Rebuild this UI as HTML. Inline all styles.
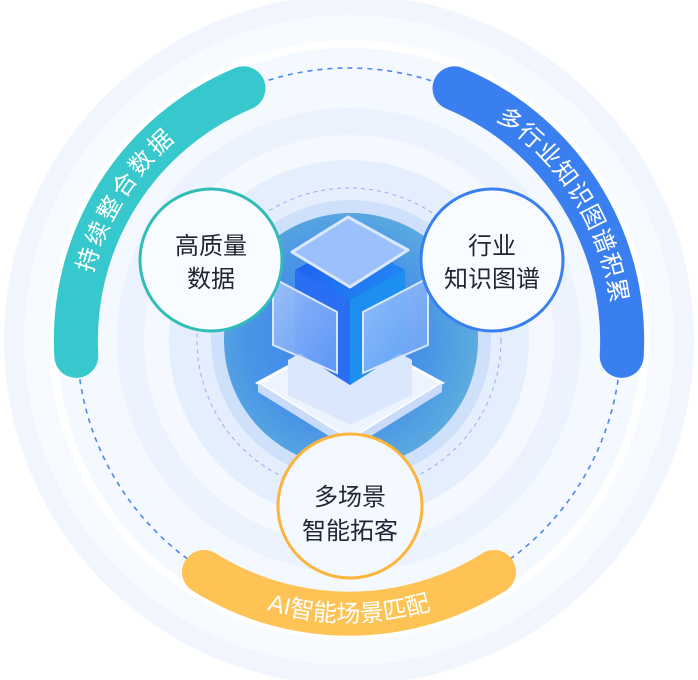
<!DOCTYPE html>
<html><head><meta charset="utf-8"><style>
html,body{margin:0;padding:0;background:#fff;}
svg{display:block;}
text{font-family:"Liberation Sans","Noto Sans CJK SC",sans-serif;}
</style></head><body>
<svg width="698" height="680" viewBox="0 0 698 680" xmlns="http://www.w3.org/2000/svg">
<defs>
<radialGradient id="disc" cx="0.45" cy="0.5" r="0.6">
<stop offset="0" stop-color="#3b7ff0"/>
<stop offset="0.6" stop-color="#4a95e6"/>
<stop offset="1" stop-color="#62b2dc"/>
</radialGradient>
<linearGradient id="face" x1="0" y1="0" x2="1" y2="1">
<stop offset="0" stop-color="#1f5cf0"/>
<stop offset="1" stop-color="#23a0f5"/>
</linearGradient>
<linearGradient id="panel" x1="0" y1="0" x2="1" y2="1">
<stop offset="0" stop-color="#a9c7fb" stop-opacity="0.85"/>
<stop offset="1" stop-color="#6fa4f7" stop-opacity="0.75"/>
</linearGradient>
<path id="pL" d="M 84.6 355.2 A 265 265 0 0 1 247.1 95.4"/>
<path id="pR" d="M 450.9 95.4 A 265 265 0 0 1 613.4 355.2"/>
<path id="pB" d="M 199.6 579.1 A 282 282 0 0 0 498.4 579.1"/>
</defs>
<circle cx="349" cy="340" r="345" fill="#f1f6fe"/>
<circle cx="349" cy="340" r="325" fill="#f7faff"/>
<circle cx="349" cy="340" r="300" fill="#ffffff"/>
<circle cx="349" cy="340" r="292" fill="#f4f8ff"/>
<circle cx="349" cy="340" r="272" fill="none" stroke="#4d86ee" stroke-width="1.6" stroke-dasharray="5 5"/>
<circle cx="349" cy="340" r="232" fill="#edf3fe"/>
<circle cx="349" cy="340" r="205" fill="#f5f8ff"/>
<circle cx="349" cy="340" r="180" fill="#e4eefd"/>
<circle cx="349" cy="340" r="152" fill="none" stroke="#8fb2f2" stroke-width="1" stroke-dasharray="4 4"/>
<circle cx="351" cy="340" r="140" fill="#cfe0fb"/>
<circle cx="351" cy="340" r="127" fill="url(#disc)"/>
<!-- arcs -->
<path d="M 76.3 355.9 A 273 273 0 0 1 243.5 88.3" fill="none" stroke="#36c8cc" stroke-width="44" stroke-linecap="round"/>
<path d="M 454.5 88.3 A 273 273 0 0 1 621.7 355.9" fill="none" stroke="#3a7ff0" stroke-width="44" stroke-linecap="round"/>
<path d="M 204 572 A 273 273 0 0 0 494 572" fill="none" stroke="#fec354" stroke-width="44" stroke-linecap="round"/>
<text font-size="24" fill="#fff"><textPath href="#pL" startOffset="50%" text-anchor="middle" letter-spacing="3">持续整合数据</textPath></text>
<text font-size="24" fill="#fff"><textPath href="#pR" startOffset="50%" text-anchor="middle" letter-spacing="1">多行业知识图谱积累</textPath></text>
<text font-size="24" fill="#fff"><textPath href="#pB" startOffset="50%" text-anchor="middle">AI智能场景匹配</textPath></text>
<!-- cube -->
<polygon points="258,383 350,333 442,383 350,440" fill="#eef4ff" stroke="#ffffff" stroke-width="3"/>
<polygon points="258,383 350,440 442,383 442,392 350,449 258,392" fill="#c9dbfb"/>
<polygon points="288,360 350,325 412,360 412,395 350,425 288,395" fill="#dbe7fd"/>
<polygon points="295,270 350,240 405,270 405,350 350,385 295,350" fill="url(#face)"/>
<polygon points="350,300 350,385 295,350 295,270" fill="#2a6ff3"/>
<polygon points="350,300 405,270 405,350 350,385" fill="#1c8ff0"/>
<polygon points="273,278 337,312 337,373 273,345" fill="url(#panel)" stroke="#d9e7ff" stroke-width="2"/>
<polygon points="428,278 363,312 363,373 428,345" fill="url(#panel)" stroke="#d9e7ff" stroke-width="2"/>
<polygon points="348,217 408,250 350,287 292,252" fill="#9cc0fb" stroke="#dbe8ff" stroke-width="3" stroke-linejoin="round"/>
<!-- small circles -->
<circle cx="211" cy="260" r="71" fill="#f8fbff" stroke="#2fbdb7" stroke-width="3"/>
<text x="211" y="254" font-size="24" text-anchor="middle" fill="#1f2633">高质量</text>
<text x="211" y="287" font-size="24" text-anchor="middle" fill="#1f2633">数据</text>
<circle cx="492" cy="260" r="71" fill="#f8fbff" stroke="#3a7ff0" stroke-width="3"/>
<text x="492" y="254" font-size="24" text-anchor="middle" fill="#1f2633">行业</text>
<text x="492" y="287" font-size="24" text-anchor="middle" fill="#1f2633">知识图谱</text>
<circle cx="350" cy="506" r="72" fill="#f4f8ff" stroke="#fcb53c" stroke-width="3"/>
<text x="350" y="505" font-size="24" text-anchor="middle" fill="#1f2633">多场景</text>
<text x="350" y="539" font-size="24" text-anchor="middle" fill="#1f2633">智能拓客</text>
</svg>
</body></html>
